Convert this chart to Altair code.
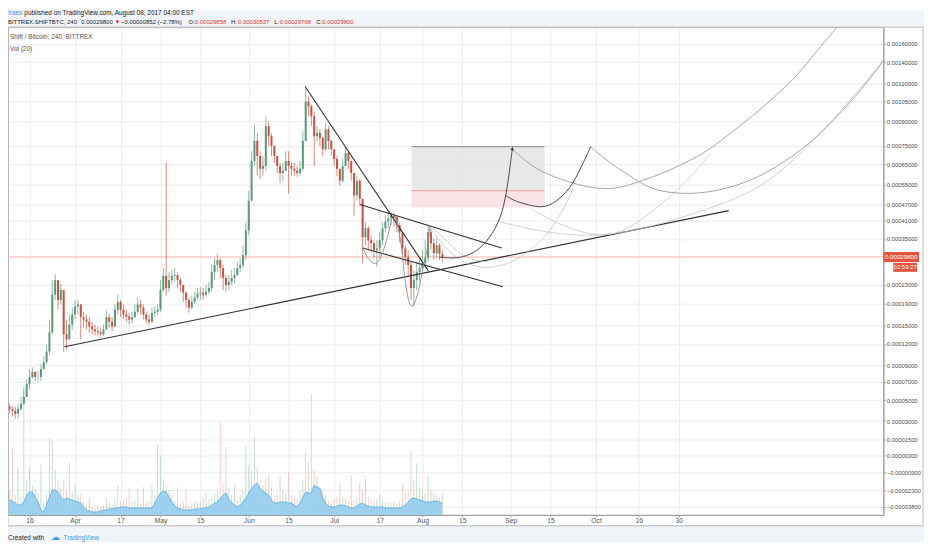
import altair as alt
import pandas as pd

SAT = 1e-8
FONT = "Liberation Sans"

# ---------------- data (daily candles, prices in satoshi = 1e-8 BTC) ----------------
first_day = "2017-03-07"
last_day = "2017-08-08"
origin_day = "2017-03-16"          # day 0 of the x axis
open_first_sat = 4800

close_sat = [4630,4340,4140,3950,3670,4140,4630,5340,6750,
 7560,8170,7560,7560,8530,9430,10900,13800,20800,24000,
 19700,21800,13500,12700,15100,16900,18400,18800,16400,16000,
 15600,14800,14300,14000,13800,13500,14300,16400,15600,14800,
 17800,19300,17800,16900,16500,16000,16400,17400,18800,18200,
 16900,16000,15600,17200,17400,17800,21800,25000,22200,24000,
 25000,25200,24000,22900,21200,19700,18200,19300,20200,21000,
 21200,20800,21400,22200,25900,27700,29000,26900,24500,22900,
 23600,24500,25200,26900,27700,30300,37700,48400,66600,77700,
 69200,62600,64000,87000,80700,74800,69200,64000,60600,61600,
 66600,64000,62600,61600,60600,62600,77700,104900,101100,93800,
 80700,82600,79500,72900,85100,77700,72900,67600,62600,56900,
 64000,70800,66600,60600,50500,56900,49200,35500,38400,34600,
 33700,31700,32200,34600,38400,40700,41800,42800,42100,39400,
 37100,32200,29800,27700,22200,24000,25900,26900,28200,29500,
 37100,33700,30900,33100,30600,29800]

high_sat = [5130,4830,4630,4430,4340,4630,5340,6190,7320,
 8530,8770,8290,8290,9170,10200,11900,16000,24000,25400,
 24000,23100,19700,16000,16900,18200,19700,19700,18800,17400,
 16900,16400,15600,15100,14800,14600,15100,17800,17100,16400,
 18800,20800,19700,18800,17800,17200,17400,18800,20200,19700,
 18800,17400,16900,18200,18400,18800,24000,26900,65600,25900,
 26400,26900,25900,24500,22900,21400,20200,20600,21400,22200,
 22400,22200,22900,23600,27700,29500,30600,29500,27700,25200,
 25200,26400,26900,28500,29500,33100,40400,52500,71900,88400,
 82600,71900,69200,93800,90400,82600,74800,69200,65500,65600,
 71900,71900,65500,65600,64000,66600,83800,115500,108800,102600,
 97400,87000,85100,80700,89000,87000,78900,72900,69200,62600,
 67600,74200,71900,66600,59200,59200,57800,48400,40400,39100,
 36100,34600,34600,37100,40400,42800,43900,44200,43900,42800,
 40400,36100,33100,31700,28500,26400,28500,29500,31700,34600,
 39400,38400,35200,35200,33700,31700]

low_sat = [4340,3950,3760,3400,3220,3220,3950,4530,5340,
 6190,7320,7090,6980,7090,8530,9170,10500,13500,19700,
 17800,18800,10900,11200,13500,14300,16000,16900,12700,14600,
 14300,13800,13500,13300,13200,13000,13200,14300,14600,14000,
 14600,16900,16400,16000,15600,15100,15300,16400,16900,16900,
 16000,15300,15000,15400,16400,16900,17400,21400,20600,21400,
 22900,23600,22200,21400,19300,18200,17200,17800,18800,19700,
 19700,19700,20200,20800,21400,24000,25900,24500,21800,21400,
 21800,22900,23300,25000,25900,26900,29000,36100,48400,64000,
 59200,57800,59200,61600,74800,69200,65500,60600,56000,56900,
 61600,51300,59200,59200,58700,59200,61600,87000,93800,87000,
 64000,77700,74800,69200,71900,72900,69200,64000,59200,54700,
 56000,64000,62600,56900,42800,48400,46500,28200,33100,31700,
 31100,29500,27200,29500,33100,37100,38400,39400,39100,37100,
 34000,30300,27700,25200,19700,18400,21800,23600,25900,26900,
 28500,31700,29000,29500,29000,28500]

# volume (relative units): highest 4h bar of each day, and the Vol(20) average
vol_spike = [200,750,250,670,200,470,180,1300,350,
 480,300,280,220,510,120,200,770,750,450,
 350,280,350,250,530,220,320,200,220,140,
 100,170,80,70,90,80,100,170,120,100,
 140,300,140,160,180,280,130,150,270,120,
 280,120,140,300,200,720,600,350,300,250,
 200,150,280,120,140,250,100,120,140,120,
 140,180,220,160,180,220,250,930,300,680,
 280,200,300,150,200,250,700,500,450,780,
 480,350,300,370,400,280,200,220,400,250,
 220,430,200,180,160,250,350,620,530,1220,
 450,380,270,250,200,150,140,160,180,320,
 180,160,140,400,150,180,330,250,370,180,
 150,140,160,200,140,120,130,120,140,120,
 150,300,220,250,650,350,520,280,250,220,
 400,250,220,200,180,220]

vol_ma = [150,150,150,140,120,100,100,130,200,
 230,230,180,130,50,30,100,180,250,250,
 230,180,150,170,160,150,140,130,120,80,
 50,40,30,30,30,40,50,50,60,60,
 70,70,80,80,80,70,70,70,70,70,
 70,70,70,70,120,170,220,240,230,180,
 130,90,70,60,50,50,50,50,60,60,
 60,70,70,80,100,120,130,170,200,220,
 160,120,100,80,100,130,170,220,270,300,
 320,270,240,220,200,150,120,120,130,130,
 130,120,120,100,80,120,180,230,220,220,
 300,280,270,170,120,90,80,80,90,100,
 100,90,80,70,70,90,110,120,100,90,
 80,80,80,80,80,70,70,70,70,70,
 70,80,100,130,160,170,160,150,140,130,
 130,130,140,140,130,120]

tick_dates = ["2017-03-16","2017-04-01","2017-04-17","2017-05-01","2017-05-15",
              "2017-06-01","2017-06-15","2017-07-01","2017-07-17","2017-08-01",
              "2017-08-15","2017-09-01","2017-09-15","2017-10-01","2017-10-16","2017-10-30"]
tick_labels = ["16","Apr","17","May","15","Jun","15","Jul","17","Aug",
               "15","Sep","15","Oct","16","30"]

price_ticks = [0.0016,0.0014,0.0012,0.00105,0.0009,0.00075,0.00065,0.00055,0.00047,
               0.00041,0.00035,0.00023,0.00019,0.00015,0.00012,0.00009,0.00007,0.00005,
               0.00003,0.000015,0.000003,-0.000009,-0.000023,-0.000038]

# drawings: (days after 2017-03-16, price in satoshi)
trend_lines = {
    "support": [(12.29, 11600), (245.58, 44600)],
    "down": [(96.80, 117200), (140.08, 26200)],
    "chan_up": [(116.05, 46900), (165.84, 32300)],
    "chan_lo": [(116.99, 32300), (166.30, 22500)],
}
arcs_dark = {
    "arcA": [(143.9,29800),(147.0,29500),(150.5,29500),(154.35,30300),(158.5,32200),
             (163.1,37100),(166.2,43900),(167.9,54700),(168.8,64000),(169.6,73300)],
    "arcC": [(167.2,50500),(170.7,48100),(176.0,46500),(181.2,45500),(186.4,49100),
             (191.0,55400),(194.5,65700),(197.1,74400)],
}
arcs_mid = {
    "arcB": [(169.57,72900),(174.2,66600),(178.3,62400),(183.95,58800),(189.9,56200),
             (196.15,54000),(202.06,53300),(207.28,53700),(212.5,55800),(217.7,58100),
             (222.97,60800),(229.9,65200),(238.6,72300),(244.9,80700),(250.8,89200),
             (256.6,98600),(262.4,110200),(268.2,123000),(274.0,142300),(279.7,164300),
             (283.3,179400),(285.7,191300)],
    "arcD": [(197.1,74400),(202.06,67600),(207.28,62300),(210.07,60000),(216.0,54700),
             (221.8,52200),(229.9,51100),(239.2,51800),(250.8,55400),(262.4,63200),
             (274.0,75800),(285.6,97400),(294.9,123000),(299.9,141600),(303.0,154400)],
}
u_arcs = {
    "smallU": [(116.75,33100),(118.5,30000),(121.4,28100),(123.4,29800),(124.9,33100),
               (126.15,37100),(127.2,41700)],
    "deepU": [(128.35,42800),(130.7,32100),(131.85,24400),(132.8,20600),(134.15,18500),
              (135.2,19100),(136.5,21400),(138.2,26900),(140.0,34100),(140.55,38800)],
}
arcs_light = {
    "arcE": [(164.35,40800),(172.5,38800),(184.05,36700),(195.7,35900),(207.3,36700),
             (218.9,39100),(230.5,42500),(242.1,46700),(256.6,53400),(268.2,66600),
             (279.7,85900),(291.4,114300),(299.9,141600),(303.0,154400)],
    "arcF": [(140.5,38800),(144.6,33700),(148.1,30900),(151.6,28700),(156.1,27400),
             (160.9,26900),(166.5,27600),(172.5,29500),(177.7,33100),(181.75,36100),
             (186.4,42800),(190.5,51800),(191.7,56900)],
    "arcF2": [(140.55,38800),(143.45,37200),(148.1,33100),(151.6,30300),(156.0,28900),
              (161.0,28500)],
    "arcG": [(176.0,45300),(184.6,40400),(193.4,37100),(202.1,35800),(209.0,37700),
             (214.8,41100),(221.2,46500),(227.5,52500),(233.4,60600),(239.3,70800)],
}
arrow_tip = [(169.6, 73300)]
position_box = {"d0": 134.16, "d1": 180.92, "target": 74400, "entry": 52500, "stop": 45800}

# ---------------- tables ----------------
dates = pd.date_range(first_day, last_day, freq="D")
day = (dates - pd.Timestamp(origin_day)).days
open_sat = [open_first_sat] + close_sat[:-1]
candles = pd.DataFrame({
    "d": day,
    "o": [v * SAT for v in open_sat],
    "c": [v * SAT for v in close_sat],
    "h": [max(h, o, c) * SAT for h, o, c in zip(high_sat, open_sat, close_sat)],
    "l": [min(l, o, c) * SAT for l, o, c in zip(low_sat, open_sat, close_sat)],
    "vol": vol_spike,
    "ma": vol_ma,
})
candles["up"] = candles["c"] >= candles["o"]


def lines_df(groups):
    rows = []
    for name, pts in groups.items():
        for d, s in pts:
            rows.append({"id": name, "d": d, "p": s * SAT})
    return pd.DataFrame(rows)


tick_days = [(pd.Timestamp(t) - pd.Timestamp(origin_day)).days for t in tick_dates]
label_expr = "".join(f"datum.value == {d} ? '{lab}' : " for d, lab in zip(tick_days, tick_labels)) + "''"

W, H = 883, 492
RP = 41
one = pd.DataFrame({"a": [0]})

x_scale = alt.Scale(domain=[-7.556, 299.9], nice=False, zero=False)
x_axis = alt.Axis(values=tick_days, labelExpr=label_expr, title=None, grid=True,
                  gridColor="#ececec", tickSize=2, tickColor="#999", domainColor="#999",
                  labelFontSize=6.8, labelColor="#555", labelFont=FONT, labelPadding=1,
                  labelOverlap=False, labelFlush=False)
p_scale = alt.Scale(type="symlog", constant=0.0001, domain=[-0.0000457, 0.001806],
                    nice=False, zero=False)
p_axis = alt.Axis(orient="right", values=price_ticks, format=".8f", title=None, grid=True,
                  gridColor="#ececec", tickSize=2, tickColor="#999", domainColor="#999",
                  labelFontSize=5.9, labelColor="#4a4a4a", labelFont=FONT, labelPadding=1,
                  labelOverlap=False)


def X(f):
    return alt.X(f, type="quantitative", scale=x_scale, axis=x_axis)


def Y(f):
    return alt.Y(f, type="quantitative", scale=p_scale, axis=p_axis)


def label(text, x, y, color="#333", size=6.5, weight="normal", align="center"):
    return alt.Chart(one).mark_text(text=text, align=align, baseline="middle", fontSize=size,
                                    font=FONT, color=color, fontWeight=weight).encode(
        x=alt.value(x), y=alt.value(y))


# ---------------- frame and strips ----------------
header_strip = alt.Chart(one).mark_rect(color="#f1f4f9").encode(
    x=alt.value(0), x2=alt.value(W + RP), y=alt.value(-17), y2=alt.value(0))
footer_strip = alt.Chart(one).mark_rect(color="#f1f4f9").encode(
    x=alt.value(0), x2=alt.value(W + RP), y=alt.value(503), y2=alt.value(H + 42))
frame = alt.Chart(one).mark_rect(fill=None, stroke="#b8b8b8", strokeWidth=1).encode(
    x=alt.value(0), x2=alt.value(W + RP - 1), y=alt.value(0), y2=alt.value(503))

# ---------------- position tool ----------------
box = pd.DataFrame([position_box])
box["t"] = box["target"] * SAT
box["e"] = box["entry"] * SAT
box["s"] = box["stop"] * SAT
gray_box = alt.Chart(box).mark_rect(color="#e6e6e6", opacity=0.9, clip=True).encode(
    x=X("d0"), x2="d1", y=Y("t"), y2="e")
pink_box = alt.Chart(box).mark_rect(color="#fbe1e4", opacity=0.9, clip=True).encode(
    x=X("d0"), x2="d1", y=Y("e"), y2="s")
top_rule = alt.Chart(box).mark_rule(color="#8c8c8c", strokeWidth=1).encode(
    x=X("d0"), x2="d1", y=Y("t"))
entry_rule = alt.Chart(box).mark_rule(color="#e79a9a", strokeWidth=1).encode(
    x=X("d0"), x2="d1", y=Y("e"))

# ---------------- last price line and tags ----------------
last = pd.DataFrame({"p": [close_sat[-1] * SAT]})
price_line = alt.Chart(last).mark_rule(color="#f2a9a2", strokeWidth=0.9).encode(
    x=alt.value(0), x2=alt.value(W), y=Y("p"))
tag1 = alt.Chart(last).mark_rect(color="#e2543e", yOffset=-5, y2Offset=5).encode(
    x=alt.value(W), x2=alt.value(W + 36), y=Y("p"), y2="p")
tag1_text = alt.Chart(last).mark_text(text="0.00029800", color="white", fontSize=6.2, font=FONT,
                                      align="center", baseline="middle").encode(
    x=alt.value(W + 18), y=Y("p"))
tag2 = alt.Chart(last).mark_rect(color="#e2543e", yOffset=6, y2Offset=15).encode(
    x=alt.value(W + 10), x2=alt.value(W + 34), y=Y("p"), y2="p")
tag2_text = alt.Chart(last).mark_text(text="02:59:27", color="white", fontSize=6.0, font=FONT,
                                      align="center", baseline="middle", dy=10.5).encode(
    x=alt.value(W + 22), y=Y("p"))

# ---------------- candles ----------------
up_col, down_col = "#5a987a", "#c9513f"
col = alt.condition("datum.up", alt.value(up_col), alt.value(down_col))
wicks = alt.Chart(candles).mark_rule(strokeWidth=0.8, opacity=0.85, clip=True).encode(
    x=X("d"), y=Y("l"), y2="h", color=col)
bodies = alt.Chart(candles).mark_rule(strokeWidth=2.0, clip=True).encode(
    x=X("d"), y=Y("o"), y2="c", color=col)

# ---------------- drawings ----------------
tl = alt.Chart(lines_df(trend_lines)).mark_line(color="#2f2f2f", strokeWidth=1.1, clip=True).encode(
    x=X("d"), y=Y("p"), detail="id:N")
dark = alt.Chart(lines_df(arcs_dark)).mark_line(color="#4a4a4a", strokeWidth=1.0, interpolate="basis",
                                                clip=True).encode(x=X("d"), y=Y("p"), detail="id:N")
mid = alt.Chart(lines_df(arcs_mid)).mark_line(color="#9c9c9c", strokeWidth=0.9, interpolate="basis",
                                              clip=True).encode(x=X("d"), y=Y("p"), detail="id:N")
uarc = alt.Chart(lines_df(u_arcs)).mark_line(color="#8e8e8e", strokeWidth=0.9, interpolate="monotone",
                                             clip=True).encode(x=X("d"), y=Y("p"), detail="id:N")
light = alt.Chart(lines_df(arcs_light)).mark_line(color="#c6c6c6", strokeWidth=0.8, interpolate="basis",
                                                  clip=True).encode(x=X("d"), y=Y("p"), detail="id:N")
arrow = alt.Chart(pd.DataFrame([{"d": d, "p": s * SAT} for d, s in arrow_tip])).mark_point(
    shape="triangle-up", filled=True, size=14, angle=8, color="#333", opacity=1).encode(x=X("d"), y=Y("p"))

# ---------------- volume (own scale) ----------------
v_scale = alt.Scale(domain=[0, 4920], nice=False)
vol_col = alt.condition("datum.up", alt.value("#a9cfb9"), alt.value("#eab5ae"))
vol_bars = alt.Chart(candles).mark_rule(strokeWidth=0.9, opacity=0.75, clip=True).encode(
    x=X("d"), y=alt.Y("vol:Q", scale=v_scale, axis=None), y2=alt.datum(0), color=vol_col)
vol_area = alt.Chart(candles).mark_area(color="#94cdee", opacity=0.9, line={"color": "#52aedd", "strokeWidth": 0.8},
                                        clip=True).encode(
    x=X("d"), y=alt.Y("ma:Q", scale=v_scale, axis=None))

# ---------------- texts ----------------
L2 = 6.0
texts = [
    label("Iraes", 0, -14, color="#3d9ad9", size=6.5, align="left"),
    label("published on TradingView.com, August 08, 2017 04:00 EST", 16.5, -14, color="#222", size=6.5, align="left"),
    label("BITTREX:SHIFTBTC, 240", 0, -5.5, color="#222", size=L2, align="left"),
    label("0.00029800", 74, -5.5, color="#222", size=L2, align="left"),
    label("▼", 107.5, -5.5, color="#e0342a", size=L2, align="left"),
    label("−0.00000852 (−2.78%)", 114, -5.5, color="#222", size=L2, align="left"),
    label("O:", 182, -5.5, color="#222", size=L2, align="left"),
    label("0.00029858", 188.5, -5.5, color="#e0342a", size=L2, align="left"),
    label("H:", 225, -5.5, color="#222", size=L2, align="left"),
    label("0.00030537", 232, -5.5, color="#e0342a", size=L2, align="left"),
    label("L:", 268.5, -5.5, color="#222", size=L2, align="left"),
    label("0.00029768", 274, -5.5, color="#e0342a", size=L2, align="left"),
    label("C:", 311, -5.5, color="#222", size=L2, align="left"),
    label("0.00029800", 317, -5.5, color="#e0342a", size=L2, align="left"),
    label("Shift / Bitcoin, 240, BITTREX", 2, 10, color="#555", size=6.5, align="left"),
    label("Vol (20)", 2, 22, color="#555", size=6.5, align="left"),
    label("Created with", 0, 515, color="#222", size=6.5, align="left"),
    label("☁", 47.5, 514.5, color="#3ca0e0", size=9),
    label("TradingView", 56, 515, color="#3d9ad9", size=6.5, align="left"),
]

price_group = alt.layer(
    header_strip, footer_strip, frame,
    gray_box, pink_box, top_rule, entry_rule,
    price_line,
    wicks, bodies,
    tl, light, mid, uarc, dark, arrow,
    tag1, tag1_text, tag2, tag2_text,
    *texts,
)
vol_group = alt.layer(vol_bars, vol_area)

chart = alt.layer(vol_group, price_group).resolve_scale(y="independent").properties(
    width=W, height=H,
    autosize=alt.AutoSizeParams(type="none"),
    padding={"left": 0, "top": 17, "right": RP, "bottom": 25},
    background="white",
).configure_view(stroke="#b0b0b0", fill="white")

chart.save("out.html", embed_options={"renderer": "svg", "actions": False})
